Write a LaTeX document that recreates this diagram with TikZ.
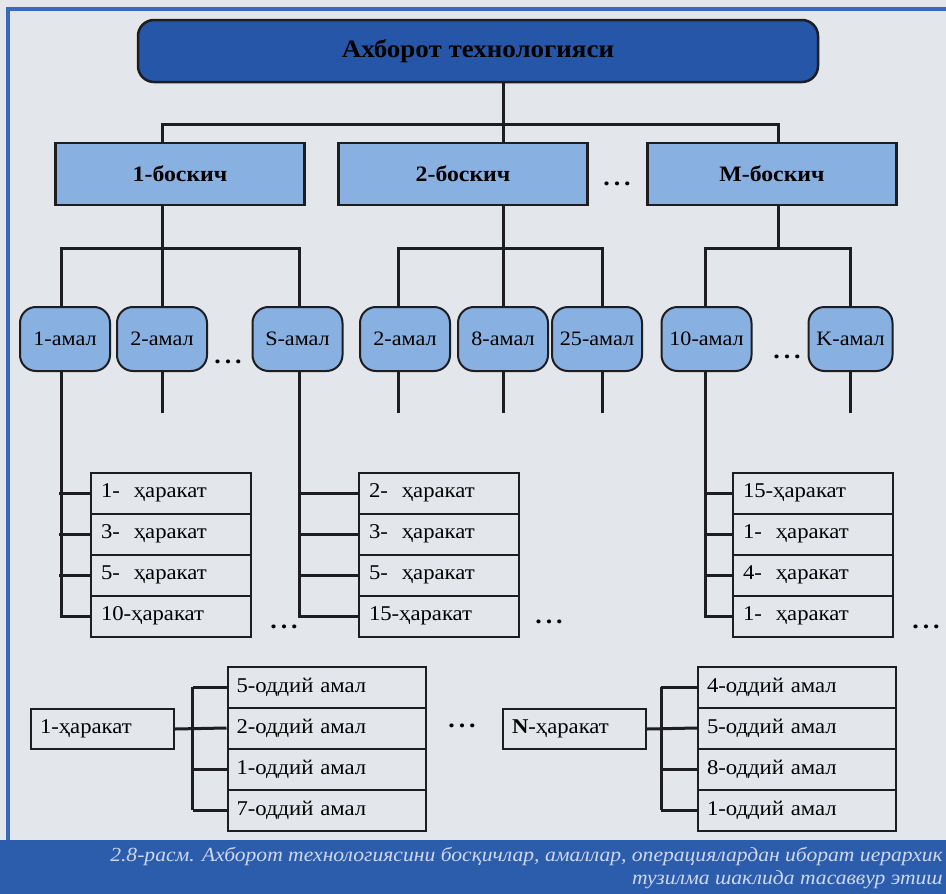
\documentclass[tikz,border=0pt]{standalone}
\usepackage{fontspec}
\setmainfont{Liberation Serif}[FakeStretch=1.08]
\definecolor{paper}{RGB}{227,230,235}
\definecolor{frame}{RGB}{58,104,190}
\definecolor{deepblue}{RGB}{38,86,168}
\definecolor{paleblue}{RGB}{136,176,224}
\definecolor{band}{RGB}{44,92,172}
\definecolor{captext}{RGB}{205,215,240}
\definecolor{ink}{RGB}{30,30,34}
\tikzset{
  titlebox/.style={draw=ink,line width=2.5pt,fill=deepblue,rounded corners=16pt,minimum width=680pt,minimum height=62pt,font=\fontsize{25}{28}\selectfont\bfseries},
  stagebox/.style={draw=ink,line width=2.5pt,fill=paleblue,minimum width=249pt,minimum height=62pt,font=\fontsize{22}{26}\selectfont\bfseries},
  amalbox/.style={draw=ink,line width=2pt,fill=paleblue,rounded corners=16pt,minimum width=90pt,minimum height=64pt,inner sep=0pt,font=\fontsize{20.5}{24}\selectfont},
  actbox/.style={draw=ink,line width=2pt,minimum height=41pt,text width=140pt,inner xsep=10pt,align=left,font=\fontsize{21}{24}\selectfont},
  opbox/.style={draw=ink,line width=2pt,minimum height=41pt,text width=180pt,inner xsep=9pt,align=left,font=\fontsize{21}{24}\selectfont},
  headbox/.style={draw=ink,line width=2pt,minimum height=40pt,text width=125pt,inner xsep=9pt,align=left,font=\fontsize{21}{24}\selectfont},
  link/.style={draw=ink,line width=3pt},
  dots/.style={font=\fontsize{24}{26}\selectfont\bfseries},
  caption/.style={text=captext,align=right,inner sep=0pt,font=\fontsize{20}{23}\selectfont\itshape}
}
\begin{document}
\begin{tikzpicture}[x=1pt,y=-1pt]
\fill[paper] (0,0) rectangle (946,894);
\useasboundingbox (0,0) rectangle (946,894);
\fill[band] (0,840) rectangle (946,894);
\draw[frame,line width=4pt] (8,840) -- (8,9) -- (946,9);

\node[titlebox] (top) at (478,51) {Ахборот технологияси};
\node[stagebox] (st1) at (180,174) {1-боскич};
\node[stagebox] (st2) at (463,174) {2-боскич};
\node[stagebox] (stM) at (772,174) {М-боскич};
\node[dots] (d1) at (617,184) {.\,.\,.};

\node[amalbox] (a11) at (65,339) {1-амал};
\node[amalbox] (a12) at (162,339) {2-амал};
\node[amalbox] (a1S) at (297.5,339) {S-амал};
\node[amalbox] (a21) at (405,339) {2-амал};
\node[amalbox] (a22) at (503,339) {8-амал};
\node[amalbox] (a23) at (597,339) {25-амал};
\node[amalbox] (a31) at (706.5,339) {10-амал};
\node[amalbox,minimum width=84pt] (a3K) at (850.5,339) {K-амал};
\node[dots] (d2) at (228,362) {.\,.\,.};
\node[dots] (d3) at (787,357) {.\,.\,.};

\node[actbox] (h11) at (171,493) {1-~ ҳаракат};
\node[actbox] (h12) at (171,534) {3-~ ҳаракат};
\node[actbox] (h13) at (171,575) {5-~ ҳаракат};
\node[actbox] (h14) at (171,616) {10-ҳаракат};
\node[actbox] (h21) at (439,493) {2-~ ҳаракат};
\node[actbox] (h22) at (439,534) {3-~ ҳаракат};
\node[actbox] (h23) at (439,575) {5-~ ҳаракат};
\node[actbox] (h24) at (439,616) {15-ҳаракат};
\node[actbox] (h31) at (813,493) {15-ҳаракат};
\node[actbox] (h32) at (813,534) {1-~ ҳаракат};
\node[actbox] (h33) at (813,575) {4-~ ҳаракат};
\node[actbox] (h34) at (813,616) {1-~ ҳаракат};
\node[dots] (d4) at (284,627) {.\,.\,.};
\node[dots] (d5) at (549,622) {.\,.\,.};
\node[dots] (d6) at (926,627) {.\,.\,.};

\node[headbox] (b1) at (102.5,729) {1-ҳаракат};
\node[opbox] (o11) at (326.5,687) {5-оддий амал};
\node[opbox] (o12) at (326.5,728) {2-оддий амал};
\node[opbox] (o13) at (326.5,769) {1-оддий амал};
\node[opbox] (o14) at (326.5,810) {7-оддий амал};
\node[dots] (d7) at (462,726) {.\,.\,.};
\node[headbox] (bN) at (574.5,729) {\textbf{N}-ҳаракат};
\node[opbox] (o21) at (797,687) {4-оддий амал};
\node[opbox] (o22) at (797,728) {5-оддий амал};
\node[opbox] (o23) at (797,769) {8-оддий амал};
\node[opbox] (o24) at (797,810) {1-оддий амал};

\draw[link] ([xshift=25]top.south) -- ++(0,41) coordinate (t0);
\draw[link] ([xshift=-18]st1.north) |- (t0) -| ([xshift=6]stM.north);
\draw[link] (t0) -- (t0 |- st2.north);

\draw[link] ([xshift=-18]st1.south) -- (a12.north);
\draw[link] ([xshift=-4]a11.north) |- ([yshift=-42]st1.south) -| ([xshift=1.5]a1S.north);
\draw[link] ([xshift=40]st2.south) -- (a22.north);
\draw[link] ([xshift=-7]a21.north) |- ([yshift=-42]st2.south) -| ([xshift=5]a23.north);
\draw[link] ([xshift=6]stM.south) -- ++(0,42) coordinate (t3);
\draw[link] ([xshift=-1.5]a31.north) |- (t3) -| (a3K.north);

\draw[link] (a12.south) -- ++(0,41);
\draw[link] ([xshift=-7]a21.south) -- ++(0,41);
\draw[link] (a22.south) -- ++(0,41);
\draw[link] ([xshift=5]a23.south) -- ++(0,41);
\draw[link] (a3K.south) -- ++(0,41);

\draw[link] ([xshift=-4]a11.south) |- (h14.west);
\draw[link] (h11.west) -- ++(-31,0);
\draw[link] (h12.west) -- ++(-31,0);
\draw[link] (h13.west) -- ++(-31,0);
\draw[link] ([xshift=1.5]a1S.south) |- (h24.west);
\draw[link] (h21.west) -- ++(-60,0);
\draw[link] (h22.west) -- ++(-60,0);
\draw[link] (h23.west) -- ++(-60,0);
\draw[link] ([xshift=-1.5]a31.south) |- (h34.west);
\draw[link] (h31.west) -- ++(-28,0);
\draw[link] (h32.west) -- ++(-28,0);
\draw[link] (h33.west) -- ++(-28,0);

\draw[link] (b1.east) -- (o12.west);
\draw[link] ([xshift=-34]o11.west) -- ([xshift=-34]o14.west);
\draw[link] (o11.west) -- ++(-34,0);
\draw[link] (o13.west) -- ++(-34,0);
\draw[link] (o14.west) -- ++(-34,0);
\draw[link] (bN.east) -- (o22.west);
\draw[link] ([xshift=-36]o21.west) -- ([xshift=-36]o24.west);
\draw[link] (o21.west) -- ++(-36,0);
\draw[link] (o23.west) -- ++(-36,0);
\draw[link] (o24.west) -- ++(-36,0);

\node[caption,anchor=north east] (cap) at (943,847) {2.8-расм. Ахборот технологиясини босқичлар, амаллар, операциялардан иборат иерархик\\тузилма шаклида тасаввур этиш};
\end{tikzpicture}
\end{document}
